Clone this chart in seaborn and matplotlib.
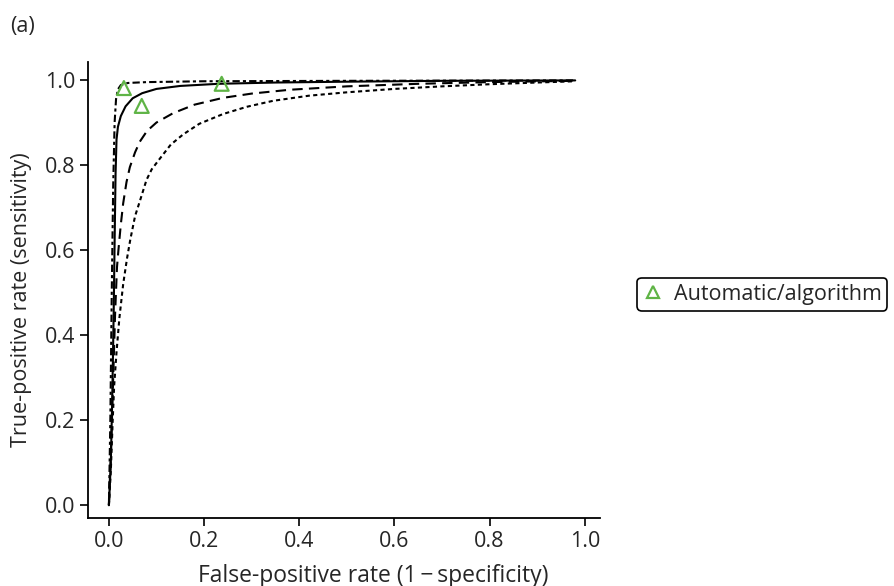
import matplotlib
matplotlib.use("Agg")
import matplotlib.pyplot as plt
import seaborn as sns
import pandas as pd

# Summary ROC curves (false-positive rate, true-positive rate)
solid_fpr = [0.0, 0.004, 0.007, 0.010, 0.012, 0.014, 0.016, 0.019, 0.025, 0.035, 0.05, 0.07, 0.10,
             0.15, 0.23, 0.35, 0.50, 0.70, 0.98]
solid_tpr = [0.0, 0.10, 0.25, 0.45, 0.62, 0.78, 0.86, 0.89, 0.915, 0.938, 0.957, 0.969, 0.979,
             0.986, 0.991, 0.994, 0.996, 0.998, 0.999]

dashed_fpr = [0.0, 0.005, 0.009, 0.013, 0.017, 0.020, 0.025, 0.030, 0.037, 0.044, 0.055, 0.065,
              0.08, 0.10, 0.135, 0.18, 0.24, 0.30, 0.38, 0.50, 0.65, 0.80, 0.98]
dashed_tpr = [0.0, 0.15, 0.30, 0.45, 0.56, 0.60, 0.66, 0.71, 0.76, 0.795, 0.83, 0.855,
              0.88, 0.90, 0.922, 0.942, 0.958, 0.968, 0.977, 0.985, 0.991, 0.995, 0.998]

dotted_fpr = [0.0, 0.004, 0.008, 0.011, 0.016, 0.022, 0.030, 0.038, 0.045, 0.055, 0.065, 0.079,
              0.09, 0.107, 0.13, 0.156, 0.19, 0.24, 0.29, 0.345, 0.42, 0.50, 0.60, 0.70,
              0.80, 0.90, 0.98]
dotted_tpr = [0.0, 0.08, 0.20, 0.28, 0.36, 0.44, 0.52, 0.58, 0.625, 0.68, 0.715, 0.765,
              0.79, 0.815, 0.848, 0.872, 0.897, 0.92, 0.937, 0.951, 0.963, 0.971, 0.979, 0.985,
              0.99, 0.994, 0.997]

dashdot_fpr = [0.0, 0.003, 0.006, 0.009, 0.012, 0.015, 0.019, 0.025, 0.04, 0.08, 0.20, 0.50, 0.98]
dashdot_tpr = [0.0, 0.20, 0.50, 0.75, 0.90, 0.955, 0.978, 0.988, 0.993, 0.995, 0.997, 0.998, 0.999]

# Individual study estimates
study_fpr = [0.0315, 0.069, 0.237]
study_tpr = [0.981, 0.939, 0.991]
study_label = "Automatic/algorithm"

x_ticks = [0.0, 0.2, 0.4, 0.6, 0.8, 1.0]
y_ticks = [0.0, 0.2, 0.4, 0.6, 0.8, 1.0]

sns.set_style("ticks")
plt.rcParams["font.family"] = ["Open Sans", "DejaVu Sans"]

FS = 15.5

fig = plt.figure(figsize=(8.94, 5.86), dpi=100)
ax = fig.add_axes([0.0984, 0.116, 0.5727, 0.778])

curves = [
    (solid_fpr, solid_tpr, "-"),
    (dashed_fpr, dashed_tpr, (0, (5, 3))),
    (dotted_fpr, dotted_tpr, (0, (2, 1.6))),
    (dashdot_fpr, dashdot_tpr, (0, (3.5, 1.5, 1.5, 1.5))),
]
for fx, ty, ls in curves:
    df = pd.DataFrame({"fpr": fx, "tpr": ty})
    sns.lineplot(data=df, x="fpr", y="tpr", ax=ax, sort=False, estimator=None,
                 color="black", linewidth=1.5, linestyle=ls)

pts = pd.DataFrame({"fpr": study_fpr, "tpr": study_tpr})
sns.scatterplot(data=pts, x="fpr", y="tpr", ax=ax, marker="^", s=100,
                facecolors="none", edgecolor="#5fb446", linewidth=1.6,
                label=study_label, legend=False, zorder=5)

ax.set_xlim(-0.044, 1.032)
ax.set_ylim(-0.03, 1.042)
ax.set_xticks(x_ticks)
ax.set_yticks(y_ticks)
ax.set_xticklabels([f"{v:.1f}" for v in x_ticks])
ax.set_yticklabels([f"{v:.1f}" for v in y_ticks])
ax.tick_params(axis="both", labelsize=FS, length=6, width=1.2, color="black",
               direction="out", pad=3)
for side in ["left", "bottom"]:
    ax.spines[side].set_linewidth(1.3)
    ax.spines[side].set_color("black")
sns.despine(ax=ax)
ax.set_xlabel("False-positive rate (1\u2009\u2212\u2009specificity)", fontsize=16.5)
ax.xaxis.set_label_coords(0.557, -0.1)
ax.set_ylabel("True-positive rate (sensitivity)", fontsize=FS)
ax.yaxis.set_label_coords(-0.11, 0.48)

handle = plt.Line2D([], [], marker="^", linestyle="none", markersize=8,
                    markerfacecolor="none", markeredgecolor="#5fb446",
                    markeredgewidth=1.6)
leg = fig.legend([handle], [study_label], loc="center left",
                 bbox_to_anchor=(0.713, 0.498), fontsize=FS, frameon=True,
                 fancybox=True, framealpha=1, edgecolor="black",
                 handlelength=0.9, handletextpad=0.5, borderpad=0.28,
                 borderaxespad=0.0)
leg.get_frame().set_linewidth(1.2)

fig.text(0.011, 0.955, "(a)", fontsize=FS, ha="left", va="center")

fig.savefig("out.png", dpi=100)
